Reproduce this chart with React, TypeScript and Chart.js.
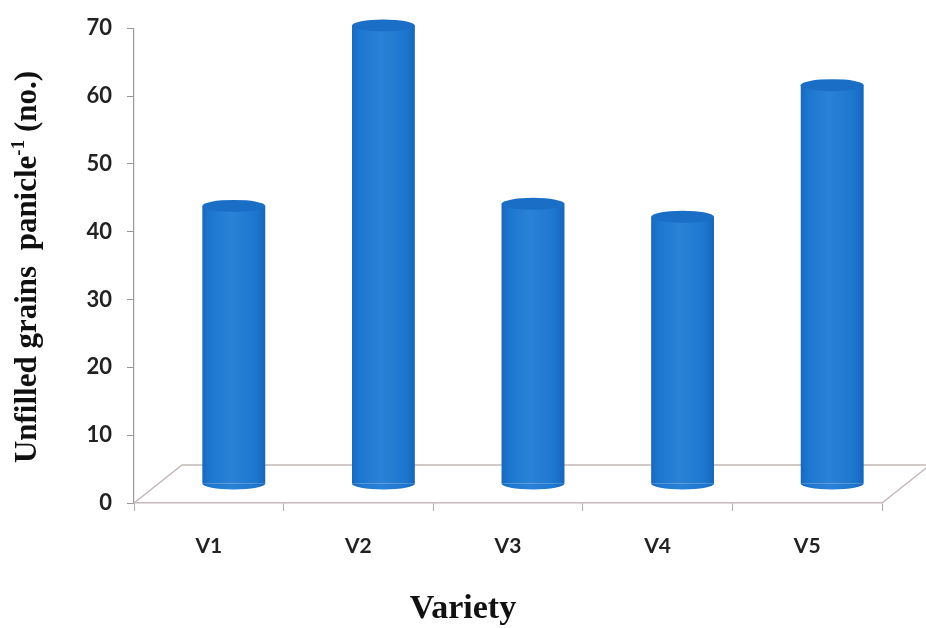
import React, { useEffect, useRef } from "react";
import { Chart, registerables } from "chart.js";

Chart.register(...registerables);

const categories = ["V1", "V2", "V3", "V4", "V5"];
const values = [41.0, 67.6, 41.3, 39.4, 58.8];
const yTicks = [0, 10, 20, 30, 40, 50, 60, 70];
const yTitleMain = "Unfilled grains  panicle";
const yTitleSup = "-1";
const yTitleEnd = " (no.)";
const xTitle = "Variety";

const BAR_COLOR = "#1f7bd4";
const CAP_COLOR = "#1a6ec5";
const FLOOR_COLOR = "#c4b8b8";
const DEPTH_X = 48;
const DEPTH_Y = -38;
const BAR_DX = 25;
const BAR_DY = -19;
const CAP_RY = 6;

const threeD = {
  id: "threeD",
  beforeDatasetsDraw(chart: any) {
    const { ctx, chartArea: a } = chart;
    ctx.save();
    ctx.strokeStyle = FLOOR_COLOR;
    ctx.lineWidth = 1.5;
    ctx.beginPath();
    ctx.moveTo(a.left, a.bottom);
    ctx.lineTo(a.left + DEPTH_X, a.bottom + DEPTH_Y);
    ctx.lineTo(a.right + DEPTH_X, a.bottom + DEPTH_Y);
    ctx.lineTo(a.right, a.bottom);
    ctx.stroke();
    ctx.restore();
    ctx.save();
    ctx.translate(BAR_DX, BAR_DY);
  },
  afterDatasetsDraw(chart: any) {
    const { ctx } = chart;
    ctx.restore();
    const meta = chart.getDatasetMeta(0);
    meta.data.forEach((bar: any) => {
      const { x, y, base, width } = bar.getProps(["x", "y", "base", "width"], true);
      const cx = x + BAR_DX;
      const top = y + BAR_DY;
      const bot = base + BAR_DY;
      const left = cx - width / 2;
      const right = cx + width / 2;
      ctx.save();
      ctx.fillStyle = BAR_COLOR;
      ctx.beginPath();
      ctx.ellipse(cx, bot, width / 2, CAP_RY, 0, 0, Math.PI);
      ctx.fill();
      const g = ctx.createLinearGradient(left, 0, right, 0);
      g.addColorStop(0, "rgba(0,40,110,0.22)");
      g.addColorStop(0.12, "rgba(0,40,110,0.05)");
      g.addColorStop(0.45, "rgba(255,255,255,0.05)");
      g.addColorStop(0.85, "rgba(0,40,110,0.06)");
      g.addColorStop(1, "rgba(0,40,110,0.25)");
      ctx.fillStyle = g;
      ctx.beginPath();
      ctx.moveTo(left, top);
      ctx.lineTo(left, bot);
      ctx.ellipse(cx, bot, width / 2, CAP_RY, 0, Math.PI, 0, true);
      ctx.lineTo(right, top);
      ctx.closePath();
      ctx.fill();
      ctx.fillStyle = CAP_COLOR;
      ctx.beginPath();
      ctx.ellipse(cx, top, width / 2, CAP_RY, 0, 0, Math.PI * 2);
      ctx.fill();
      ctx.restore();
    });
  },
  afterDraw(chart: any) {
    const { ctx } = chart;
    ctx.save();
    const big = "bold 31px 'Liberation Serif', 'Times New Roman', serif";
    const small = "bold 19px 'Liberation Serif', 'Times New Roman', serif";
    ctx.font = big;
    const w1 = ctx.measureText(yTitleMain).width;
    const w3 = ctx.measureText(yTitleEnd).width;
    ctx.font = small;
    const w2 = ctx.measureText(yTitleSup).width;
    const total = w1 + w2 + w3;
    ctx.translate(36, 267);
    ctx.rotate(-Math.PI / 2);
    ctx.fillStyle = "#111";
    ctx.textBaseline = "alphabetic";
    ctx.textAlign = "left";
    let px = -total / 2;
    ctx.font = big;
    ctx.fillText(yTitleMain, px, 0);
    px += w1;
    ctx.font = small;
    ctx.fillText(yTitleSup, px, -12);
    px += w2;
    ctx.font = big;
    ctx.fillText(yTitleEnd, px, 0);
    ctx.restore();
    ctx.save();
    ctx.font = "bold 34px 'Liberation Serif', 'Times New Roman', serif";
    ctx.fillStyle = "#111";
    ctx.textAlign = "center";
    ctx.textBaseline = "alphabetic";
    ctx.fillText(xTitle, 463, 618);
    ctx.restore();
  },
};

export default function App() {
  const ref = useRef<HTMLCanvasElement | null>(null);
  useEffect(() => {
    document.body.style.margin = "0";
    const canvas = ref.current;
    if (!canvas) return;
    const chart = new Chart(canvas, {
      type: "bar",
      data: {
        labels: categories,
        datasets: [
          {
            data: values,
            backgroundColor: BAR_COLOR,
            borderWidth: 0,
            barPercentage: 0.42,
            categoryPercentage: 1,
            clip: false as any,
          },
        ],
      },
      options: {
        animation: false,
        responsive: false,
        maintainAspectRatio: false,
        layout: { padding: { left: 0, top: 24, right: 44, bottom: 0 } },
        plugins: { legend: { display: false }, tooltip: { enabled: false } },
        scales: {
          x: {
            grid: { drawOnChartArea: false, drawTicks: true, tickLength: 8, color: "#b0a8a8", offset: true },
            border: { display: true, color: FLOOR_COLOR, width: 1.5 },
            ticks: { font: { family: "Lato", size: 21, weight: "bold" }, color: "#222", padding: 23 },
            afterFit: (s: any) => {
              s.height = 125;
            },
          },
          y: {
            min: 0,
            max: 70,
            afterBuildTicks: (s: any) => {
              s.ticks = yTicks.map((v) => ({ value: v }));
            },
            grid: { drawOnChartArea: false, drawTicks: true, tickLength: 7, color: "#999" },
            border: { display: true, color: "#999", width: 1.2 },
            ticks: { font: { family: "Lato", size: 22, weight: "bold" }, color: "#222", padding: 15 },
            afterFit: (s: any) => {
              s.width = 134;
            },
          },
        },
      },
      plugins: [threeD],
    });
    return () => chart.destroy();
  }, []);
  return (
    <div style={{ width: 926, height: 628, background: "#fff" }}>
      <canvas ref={ref} width={926} height={628} />
    </div>
  );
}
